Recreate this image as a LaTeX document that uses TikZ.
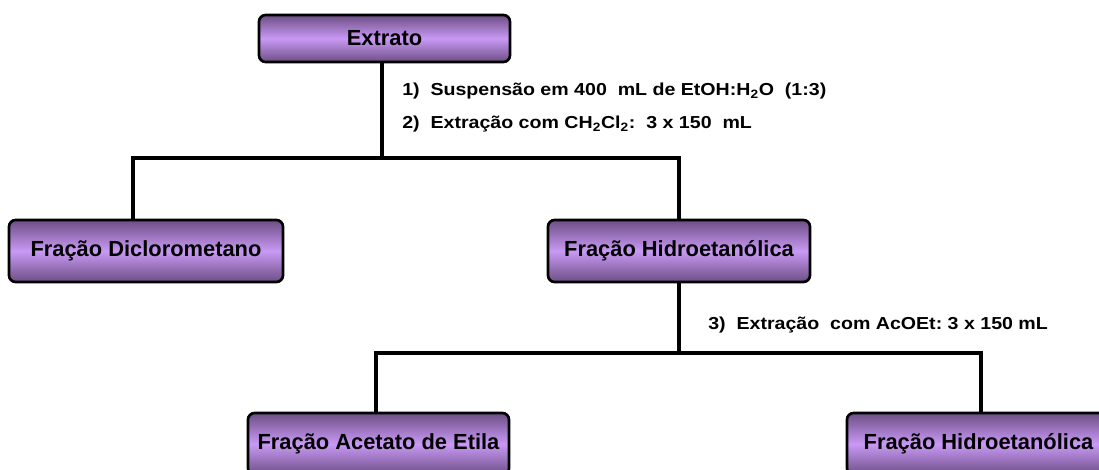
\documentclass[tikz,border=0pt]{standalone}
\usepackage{fontspec}
\setmainfont{Liberation Sans}
\newfontfamily\passofont[FakeStretch=1.13]{Liberation Sans}
\definecolor{boxdark}{RGB}{108,78,132}
\definecolor{boxlight}{RGB}{201,153,245}
\tikzset{
  fracbox/.style={draw=black, line width=2pt, rounded corners=5pt,
    top color=boxdark, bottom color=boxdark, middle color=boxlight,
    font=\fontsize{16.4}{19}\selectfont\bfseries, inner sep=0pt},
  passo/.style={anchor=west, inner sep=0pt, font=\passofont\fontsize{13}{15}\selectfont\bfseries},
  ramo/.style={line width=2.6pt}
}
\begin{document}
\begin{tikzpicture}[x=0.75pt,y=-0.75pt]
\clip (0,0) rectangle (1099,470);
\node[fracbox, minimum width=251*0.75pt, minimum height=47*0.75pt] (extrato) at (384.5,38.5) {Extrato};
\node[fracbox, minimum width=274*0.75pt, minimum height=62*0.75pt] (dcm) at (146,251) {Fração Diclorometano};
\node[fracbox, minimum width=262*0.75pt, minimum height=62*0.75pt] (hidro) at (679,251) {Fração Hidroetanólica};
\node[fracbox, minimum width=261*0.75pt, minimum height=62*0.75pt] (acoet) at (378.5,444) {Fração Acetato de Etila};
\node[fracbox, minimum width=263*0.75pt, minimum height=62*0.75pt] (hidrob) at (978.5,444) {Fração Hidroetanólica};
\coordinate (j1) at (382,158);
\coordinate (j1l) at (133,158);
\coordinate (j2) at (679,353);
\coordinate (j2l) at (376,353);
\coordinate (j2r) at (981,353);
\draw[ramo] (extrato.south -| j1) -- (j1);
\draw[ramo] (j1l |- dcm.north) -- (j1l) -- (hidro.north |- j1) -- (hidro.north);
\draw[ramo] (hidro.south) -- (j2);
\draw[ramo] (j2l |- acoet.north) -- (j2l) -- (j2r) -- (j2r |- hidrob.north);
\node[passo] (p1) at (402,91) {1)\ \ Suspensão\ em\ 400\ \ mL\ de\ EtOH:H\textsubscript{2}O\ \ (1:3)};
\node[passo] (p2) at (402,124) {2)\ \ Extração\ com\ CH\textsubscript{2}Cl\textsubscript{2}:\ \ 3\ x\ 150\ \ mL};
\node[passo] (p3) at (708,325) {3)\ \ Extração\ \ com\ AcOEt:\ 3\ x\ 150\ mL};
\end{tikzpicture}
\end{document}
